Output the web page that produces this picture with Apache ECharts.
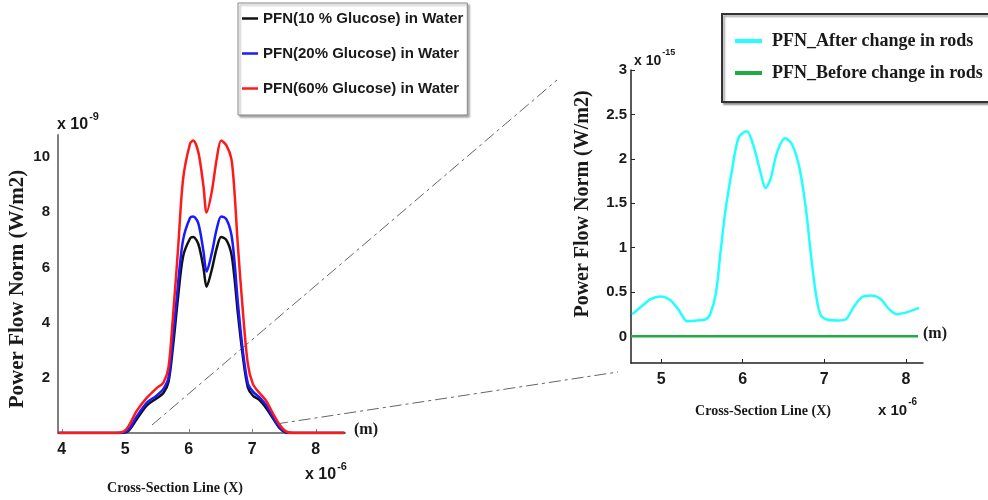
<!DOCTYPE html>
<html>
<head>
<meta charset="utf-8">
<script src="https://cdn.jsdelivr.net/npm/echarts@6/dist/echarts.min.js"></script>
<style>
html,body{margin:0;padding:0;background:#fff;}
#chart{width:988px;height:500px;}
</style>
</head>
<body>
<div id="chart"></div>
<script>
// ---- Left chart data (x in 1e-6 m, y in 1e-9 W/m2) ----
const xLeft = [3.95, 4.2, 4.5, 4.8, 4.97, 5.05, 5.18, 5.34, 5.49, 5.6, 5.68, 5.75, 5.83, 5.91, 6.02, 6.07, 6.15, 6.23, 6.28, 6.36, 6.44, 6.51, 6.59, 6.67, 6.72, 6.77, 6.85, 6.93, 7.01, 7.11, 7.22, 7.32, 7.43, 7.53, 7.64, 7.9, 8.2, 8.45];
const pfn60 = [0, 0, 0, 0, 0.05, 0.24, 0.8, 1.28, 1.62, 1.83, 2.38, 4.2, 6.65, 9.2, 10.49, 10.6, 10.18, 8.96, 7.99, 8.72, 9.94, 10.6, 10.43, 9.94, 8.72, 6.89, 4.45, 2.5, 1.77, 1.46, 1.16, 0.73, 0.3, 0.06, 0, 0, 0, 0];
const pfn20 = [0, 0, 0, 0, 0.02, 0.12, 0.6, 1.1, 1.35, 1.6, 2.0, 3.4, 5.4, 7.0, 7.8, 7.85, 7.6, 6.6, 5.85, 6.5, 7.4, 7.85, 7.75, 7.2, 6.2, 4.8, 3.0, 1.8, 1.5, 1.3, 1.0, 0.6, 0.2, 0.03, 0, 0, 0, 0];
const pfn10 = [0, 0, 0, 0, 0.01, 0.08, 0.5, 1.0, 1.25, 1.45, 1.85, 3.1, 4.9, 6.4, 7.05, 7.1, 6.85, 6.0, 5.3, 5.9, 6.7, 7.1, 7.0, 6.5, 5.6, 4.4, 2.8, 1.65, 1.35, 1.2, 0.9, 0.55, 0.18, 0.02, 0, 0, 0, 0];
const leftNames = ['PFN(10 % Glucose) in Water', 'PFN(20% Glucose) in Water', 'PFN(60% Glucose) in Water'];
const leftXTicks = [4, 5, 6, 7, 8];
const leftYTicks = [2, 4, 6, 8, 10];

// ---- Right chart data (x in 1e-6 m, y in 1e-15 W/m2) ----
const xRight = [4.645, 4.75, 4.87, 4.99, 5.11, 5.22, 5.32, 5.44, 5.54, 5.60, 5.67, 5.73, 5.79, 5.87, 5.95, 6.05, 6.13, 6.22, 6.28, 6.34, 6.42, 6.52, 6.60, 6.69, 6.77, 6.83, 6.89, 6.95, 7.03, 7.16, 7.26, 7.36, 7.46, 7.58, 7.69, 7.79, 7.89, 8.01, 8.16];
const pfnAfter = [0.25, 0.33, 0.42, 0.45, 0.41, 0.29, 0.17, 0.18, 0.19, 0.25, 0.48, 0.97, 1.43, 1.88, 2.24, 2.31, 2.15, 1.84, 1.67, 1.77, 2.07, 2.23, 2.17, 1.92, 1.47, 0.97, 0.52, 0.25, 0.19, 0.18, 0.19, 0.33, 0.44, 0.46, 0.42, 0.31, 0.25, 0.27, 0.32];
const xBefore = [4.63, 8.15];
const pfnBefore = [0, 0];
const rightNames = ['PFN_After change in rods', 'PFN_Before change in rods'];
const rightXTicks = [5, 6, 7, 8];
const rightYTicks = [0, 0.5, 1, 1.5, 2, 2.5, 3];

const zip = (xs, ys) => xs.map((x, i) => [x, ys[i]]);

const chart = echarts.init(document.getElementById('chart'), null, {renderer: 'canvas'});

const tickFont = {fontFamily: 'Liberation Sans, Arial', fontWeight: 'bold', fontSize: 15, color: '#1a1a1a'};
const serif = 'Liberation Serif, Times New Roman';

function expText(x, y, base, exp, size) {
  return {
    type: 'text', left: x, top: y,
    style: {
      text: '{b|' + base + '}{e|' + exp + '}',
      rich: {
        b: {fontFamily: 'Liberation Sans, Arial', fontWeight: 'bold', fontSize: size, fill: '#1a1a1a', verticalAlign: 'bottom'},
        e: {fontFamily: 'Liberation Sans, Arial', fontWeight: 'bold', fontSize: size - 5, fill: '#1a1a1a', padding: [0, 0, 11, 1], verticalAlign: 'bottom'}
      }
    }
  };
}

const option = {
  backgroundColor: '#ffffff',
  animation: false,
  grid: [
    {left: 58, top: 135, width: 287, height: 298, containLabel: false},
    {left: 631, top: 70, width: 292, height: 293, containLabel: false}
  ],
  xAxis: [
    {
      type: 'value', gridIndex: 0, min: 3.94, max: 8.46,
      axisLine: {show: true, onZero: false, lineStyle: {color: '#7f7f7f', width: 2}},
      axisTick: {show: true, inside: true, length: 4, lineStyle: {color: '#7f7f7f'}, customValues: leftXTicks},
      axisLabel: Object.assign({customValues: leftXTicks, margin: 9}, tickFont, {fontSize: 16}),
      splitLine: {show: false}
    },
    {
      type: 'value', gridIndex: 1, min: 4.63, max: 8.21,
      axisLine: {show: true, onZero: false, lineStyle: {color: '#222', width: 1.5}},
      axisTick: {show: true, inside: true, length: 4, lineStyle: {color: '#222'}, customValues: rightXTicks},
      axisLabel: Object.assign({customValues: rightXTicks, margin: 9}, tickFont, {fontSize: 16}),
      splitLine: {show: false}
    }
  ],
  yAxis: [
    {
      type: 'value', gridIndex: 0, min: 0, max: 10.8,
      axisLine: {show: true, onZero: false, lineStyle: {color: '#7f7f7f', width: 2}},
      axisTick: {show: false, customValues: leftYTicks},
      axisLabel: Object.assign({customValues: leftYTicks, margin: 8}, tickFont),
      splitLine: {show: false}
    },
    {
      type: 'value', gridIndex: 1, min: -0.3, max: 3,
      axisLine: {show: true, onZero: false, lineStyle: {color: '#222', width: 1.5}},
      axisTick: {show: true, inside: true, length: 4, lineStyle: {color: '#222'}, customValues: rightYTicks},
      axisLabel: Object.assign({customValues: rightYTicks, margin: 4}, tickFont),
      splitLine: {show: false}
    }
  ],
  legend: [
    {
      data: leftNames, orient: 'vertical', left: 238, top: 3,
      icon: 'rect', itemWidth: 16, itemHeight: 2.5, itemGap: 20,
      padding: [8, 4, 19, 4],
      backgroundColor: '#fff', borderColor: '#888', borderWidth: 1,
      shadowColor: 'rgba(0,0,0,0.35)', shadowBlur: 2, shadowOffsetX: 2, shadowOffsetY: 2,
      textStyle: {fontFamily: 'Liberation Sans, Arial', fontWeight: 'bold', fontSize: 15, color: '#1a1a1a', lineHeight: 15},
      selectedMode: false
    },
    {
      data: rightNames, orient: 'vertical', left: 722, top: 14,
      icon: 'rect', itemWidth: 27, itemHeight: 4, itemGap: 14,
      padding: [18, 30, 20, 13],
      backgroundColor: '#fff', borderColor: '#333', borderWidth: 2,
      shadowColor: 'rgba(0,0,0,0.35)', shadowBlur: 2, shadowOffsetX: 2, shadowOffsetY: 2,
      textStyle: {fontFamily: serif, fontWeight: 'bold', fontSize: 18, color: '#1a1a1a', lineHeight: 16, padding: [0, 0, 0, 5]},
      selectedMode: false
    }
  ],
  series: [
    {name: leftNames[0], type: 'line', xAxisIndex: 0, yAxisIndex: 0, data: zip(xLeft, pfn10), showSymbol: false, smooth: 0.3, lineStyle: {color: '#111', width: 2.5}, itemStyle: {color: '#111'}},
    {name: leftNames[1], type: 'line', xAxisIndex: 0, yAxisIndex: 0, data: zip(xLeft, pfn20), showSymbol: false, smooth: 0.3, lineStyle: {color: '#1a1aff', width: 2.5}, itemStyle: {color: '#1a1aff'}},
    {name: leftNames[2], type: 'line', xAxisIndex: 0, yAxisIndex: 0, data: zip(xLeft, pfn60), showSymbol: false, smooth: 0.3, lineStyle: {color: '#ff1a1a', width: 2.5}, itemStyle: {color: '#ff1a1a'}},
    {name: rightNames[0], type: 'line', xAxisIndex: 1, yAxisIndex: 1, data: zip(xRight, pfnAfter), showSymbol: false, smooth: 0.3, lineStyle: {color: '#22ffff', width: 2.5}, itemStyle: {color: '#22ffff'}},
    {name: rightNames[1], type: 'line', xAxisIndex: 1, yAxisIndex: 1, data: zip(xBefore, pfnBefore), showSymbol: false, lineStyle: {color: '#22aa44', width: 2.5}, itemStyle: {color: '#22aa44'}}
  ],
  graphic: [
    // zoom connector lines
    {type: 'line', shape: {x1: 152, y1: 425, x2: 557, y2: 80}, style: {stroke: '#666', lineWidth: 1, lineDash: [12, 4, 3, 4]}, z: 1},
    {type: 'line', shape: {x1: 276, y1: 424, x2: 618, y2: 372}, style: {stroke: '#666', lineWidth: 1, lineDash: [12, 4, 3, 4]}, z: 1},
    // exponent labels
    expText(57, 111, 'x 10', '-9', 16),
    expText(305, 461, 'x 10', '-6', 16),
    expText(634, 48, 'x 10', '-15', 14),
    expText(878, 397, 'x 10', '-6', 15),
    // unit labels
    {type: 'text', left: 354, top: 422, style: {text: '(m)', fontFamily: serif, fontWeight: 'bold', fontSize: 16, fill: '#1a1a1a'}},
    {type: 'text', left: 923, top: 326, style: {text: '(m)', fontFamily: serif, fontWeight: 'bold', fontSize: 16, fill: '#1a1a1a'}},
    // axis titles
    {type: 'text', x: 175, y: 488, style: {text: 'Cross-Section Line (X)', fontFamily: serif, fontWeight: 'bold', fontSize: 14, fill: '#1a1a1a', align: 'center', verticalAlign: 'middle'}},
    {type: 'text', x: 763, y: 411, style: {text: 'Cross-Section Line (X)', fontFamily: serif, fontWeight: 'bold', fontSize: 14, fill: '#1a1a1a', align: 'center', verticalAlign: 'middle'}},
    {type: 'text', x: 18, y: 289, rotation: Math.PI / 2, style: {text: 'Power Flow Norm (W/m2)', fontFamily: serif, fontWeight: 'bold', fontSize: 21, fill: '#1a1a1a', align: 'center', verticalAlign: 'middle'}},
    {type: 'text', x: 583, y: 204, rotation: Math.PI / 2, style: {text: 'Power Flow Norm (W/m2)', fontFamily: serif, fontWeight: 'bold', fontSize: 20, fill: '#1a1a1a', align: 'center', verticalAlign: 'middle'}}
  ]
};
chart.setOption(option);
</script>
</body>
</html>
